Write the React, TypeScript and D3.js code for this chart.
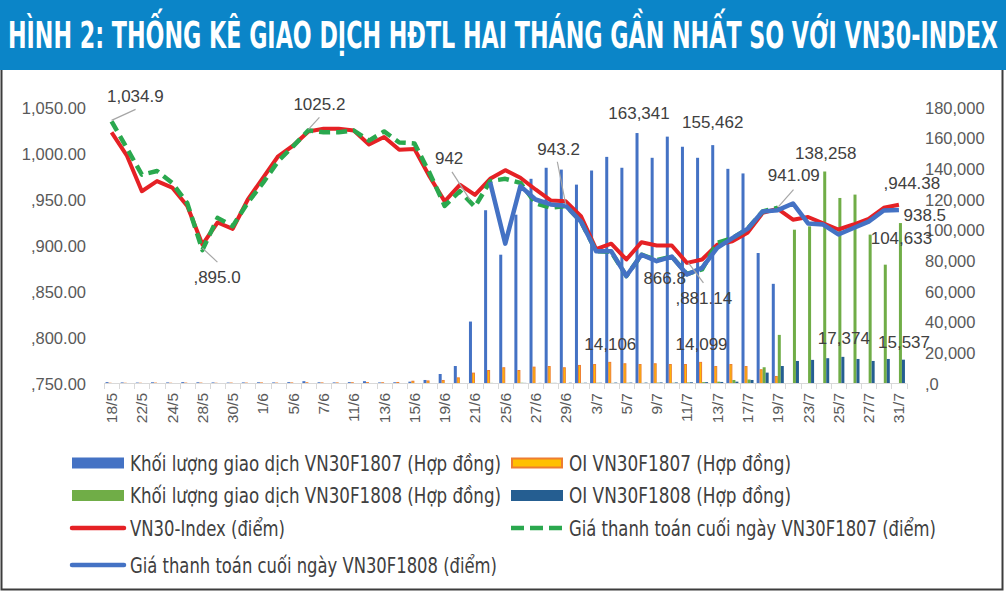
import React, { useEffect, useRef } from 'react';
import * as d3 from 'd3';

const W = 1006;
const H = 593;

const dates = [
  '18/5', '21/5', '22/5', '23/5', '24/5', '25/5', '28/5', '29/5', '30/5', '31/5',
  '1/6', '4/6', '5/6', '6/6', '7/6', '8/6', '11/6', '12/6', '13/6', '14/6', '15/6', '18/6', '19/6', '20/6', '21/6', '22/6', '25/6', '26/6', '27/6', '28/6', '29/6',
  '2/7', '3/7', '4/7', '5/7', '6/7', '9/7', '10/7', '11/7', '12/7', '13/7', '16/7', '17/7', '18/7', '19/7', '20/7', '23/7', '24/7', '25/7', '26/7', '27/7', '30/7', '31/7',
];

// VN30-Index (điểm)
const vn30 = [
  1023, 998, 959, 970, 963, 943, 901, 925, 918, 950,
  973.6, 997, 1008.7, 1024, 1026.8, 1026.8, 1025, 1009.8, 1018, 1004, 1005, 975, 948, 966, 955, 972.5, 981.9, 973.6, 960.9, 949, 948,
  932, 896, 902, 884.8, 903.6, 900, 900, 881.14, 884.8, 901, 904.7, 913.8, 935.5, 939.9, 928, 931, 924, 917.4, 922.8, 929, 941, 944.38,
];

// Giá thanh toán cuối ngày VN30F1807
const f1807Price: (number | null)[] = [
  1034.9, 1006, 977, 981, 968, 946, 895.0, 930, 921, 946.7,
  968, 991.6, 1008, 1025.2, 1023, 1023, 1025, 1014, 1024, 1012, 1011, 979, 943, 959, 942, 970, 972.5, 968, 946, 941, 943,
  926, 894, 893, 866.8, 890, 884, 888, 869, 874, 903, 908, 918, 937, 941.09, null, null, null, null, null, null, null, null,
];

// Giá thanh toán cuối ngày VN30F1808
const f1808Price: (number | null)[] = [
  null, null, null, null, null, null, null, null, null, null,
  null, null, null, null, null, null, null, null, null, null, null, null, null, null, null, 968.9, 902, 964.5, 950, 944.6, 943.2,
  926, 893.8, 893.8, 866.8, 890, 883, 888, 868.5, 875.7, 897.5, 908, 918, 937, 938.4, 945.7, 924, 922.8, 912, 919, 926, 938, 938.5,
];

// Khối lượng giao dịch VN30F1807
const vol1807: (number | null)[] = [
  900, 700, 600, 800, 700, 900, 800, 700, 600, 700,
  800, 700, 900, 1500, 800, 700, 900, 1500, 700, 800, 1200, 2300, 6200, 11400, 40400, 113000, 84000, 110100, 133500, 140700, 139500,
  129700, 138900, 147800, 140700, 163341, 147200, 161000, 154400, 147200, 155462, 140000, 137000, 85100, 65000, null, null, null, null, null, null, null, null,
];

// OI VN30F1807
const oi1807: (number | null)[] = [
  500, 500, 500, 600, 500, 600, 600, 500, 600, 600,
  700, 600, 700, 800, 700, 700, 800, 900, 800, 1000, 1800, 2000, 2300, 4000, 7100, 8800, 10600, 8800, 11000, 11400, 10600,
  12100, 12700, 14106, 13200, 12700, 13200, 12700, 12700, 14099, 11400, 12700, 11400, 9300, 4900, null, null, null, null, null, null, null, null,
];

// Khối lượng giao dịch VN30F1808
const vol1808: (number | null)[] = [
  null, null, null, null, null, null, null, null, null, null,
  null, null, null, null, null, null, null, null, null, null, null, null, 200, 300, 300, 400, 300, 500, 300, 400, 300,
  400, 500, 400, 500, 400, 600, 500, 700, 900, 1200, 2300, 2600, 10600, 31700, 100300, 102500, 138258, 121000, 123200, 97100, 77500, 104633,
];

// OI VN30F1808
const oi1808: (number | null)[] = [
  null, null, null, null, null, null, null, null, null, null,
  null, null, null, null, null, null, null, null, null, null, null, null, 100, 200, 200, 300, 300, 400, 400, 400, 500,
  500, 500, 600, 600, 600, 700, 700, 800, 900, 1000, 1200, 2300, 7100, 11400, 14700, 15400, 16500, 17374, 16000, 14700, 16000, 15537,
];

const leftTicks = [750, 800, 850, 900, 950, 1000, 1050];
const leftTickLabels = [',750.00', ',800.00', ',850.00', ',900.00', ',950.00', '1,000.00', '1,050.00'];
const rightTicks = [0, 20000, 40000, 60000, 80000, 100000, 120000, 140000, 160000, 180000];
const rightTickLabels = [',0', '20,000', '40,000', '60,000', '80,000', '100,000', '120,000', '140,000', '160,000', '180,000'];

const TITLE = 'HÌNH 2: THỐNG KÊ GIAO DỊCH HĐTL HAI THÁNG GẦN NHẤT SO VỚI VN30-INDEX';

const C = {
  vol07: '#4472C4',
  oi07Fill: '#FFC000',
  oi07Stroke: '#ED7D31',
  vol08: '#70AD47',
  oi08: '#255E91',
  red: '#E52125',
  green: '#2AA84E',
  blue: '#4472C4',
  text: '#404040',
  axisText: '#595959',
  grid: '#D9D9D9',
};

export default function App() {
  const ref = useRef<SVGSVGElement>(null);

  useEffect(() => {
    const svg = d3.select(ref.current);
    svg.selectAll('*').remove();

    // background + title bar + frame
    svg.append('rect').attr('x', 0).attr('y', 0).attr('width', W).attr('height', H).attr('fill', '#fff');
    svg.append('rect').attr('x', 1.5).attr('y', 60).attr('width', 1001).attr('height', 529.5)
      .attr('fill', '#fff').attr('stroke', '#3c3c3c').attr('stroke-width', 2);
    svg.append('rect').attr('x', 0).attr('y', 0).attr('width', W).attr('height', 70).attr('fill', '#0B85C8');
    svg.append('text').attr('x', 8).attr('y', 47.5).text(TITLE)
      .attr('fill', '#fff').attr('font-family', '"Liberation Sans Narrow", "DejaVu Sans Condensed", Arial, sans-serif')
      .attr('font-weight', 'bold').attr('font-size', 37)
      .attr('textLength', 990).attr('lengthAdjust', 'spacingAndGlyphs');

    const n = dates.length;
    const x = d3.scaleBand<number>().domain(d3.range(n)).range([104, 906.5]).paddingInner(0).paddingOuter(0);
    const bw = x.bandwidth();
    const cx = (i: number) => (x(i) as number) + bw / 2;
    const yL = d3.scaleLinear().domain([750, 1050]).range([383.5, 107.5]);
    const yR = d3.scaleLinear().domain([0, 180000]).range([383.5, 107.5]);
    const inner = d3.scaleBand<string>().domain(['v07', 'o07', 'v08', 'o08']).range([0, bw]).paddingInner(0).paddingOuter(0.52);
    const ibw = inner.bandwidth();

    const font = '"Liberation Sans", Arial, sans-serif';

    // left axis labels
    svg.append('g').selectAll('text').data(leftTicks).join('text')
      .attr('x', 86).attr('y', (d) => yL(d) + 6).attr('text-anchor', 'end')
      .attr('font-family', font).attr('font-size', 16.5).attr('fill', C.axisText)
      .text((d, i) => leftTickLabels[i]);
    // right axis labels
    svg.append('g').selectAll('text').data(rightTicks).join('text')
      .attr('x', 925).attr('y', (d) => yR(d) + 6).attr('text-anchor', 'start')
      .attr('font-family', font).attr('font-size', 16.5).attr('fill', C.axisText)
      .text((d, i) => rightTickLabels[i]);

    // bars
    const barSeries: { key: string; data: (number | null)[]; fill: string; stroke?: string }[] = [
      { key: 'v07', data: vol1807, fill: C.vol07 },
      { key: 'o07', data: oi1807, fill: C.oi07Fill, stroke: C.oi07Stroke },
      { key: 'v08', data: vol1808, fill: C.vol08 },
      { key: 'o08', data: oi1808, fill: C.oi08 },
    ];
    barSeries.forEach((s) => {
      const g = svg.append('g');
      const items = s.data.map((v, i) => ({ v, i })).filter((d) => d.v != null) as { v: number; i: number }[];
      g.selectAll('rect').data(items).join('rect')
        .attr('x', (d) => (x(d.i) as number) + (inner(s.key) as number) + (s.stroke ? 0.5 : 0))
        .attr('width', s.stroke ? ibw - 1 : ibw)
        .attr('y', (d) => yR(d.v) + (s.stroke ? 0.5 : 0))
        .attr('height', (d) => Math.max(0, yR(0) - yR(d.v) - (s.stroke ? 0.5 : 0)))
        .attr('fill', s.fill)
        .attr('stroke', s.stroke || 'none')
        .attr('stroke-width', s.stroke ? 1 : 0);
    });

    // x axis
    svg.append('line').attr('x1', 104).attr('x2', 906.5).attr('y1', 383.5).attr('y2', 383.5)
      .attr('stroke', C.grid).attr('stroke-width', 1);
    svg.append('g').selectAll('line').data(d3.range(n + 1)).join('line')
      .attr('x1', (i) => Math.round(104 + i * bw) + 0.5).attr('x2', (i) => Math.round(104 + i * bw) + 0.5)
      .attr('y1', 383.5).attr('y2', 389).attr('stroke', C.grid).attr('stroke-width', 1);
    svg.append('g').selectAll('text').data(d3.range(0, n, 2)).join('text')
      .attr('transform', (i) => `translate(${cx(i) + 5.5},393) rotate(-90)`)
      .attr('text-anchor', 'end').attr('font-family', font).attr('font-size', 15.5).attr('fill', C.axisText)
      .text((i) => dates[i]);

    // lines
    const mkLine = (data: (number | null)[]) =>
      d3.line<number>().defined((i) => data[i] != null).x((i) => cx(i)).y((i) => yL(data[i] as number))(d3.range(n));
    svg.append('path').attr('d', mkLine(vn30)).attr('fill', 'none').attr('stroke', C.red)
      .attr('stroke-width', 4).attr('stroke-linejoin', 'round');
    svg.append('path').attr('d', mkLine(f1807Price)).attr('fill', 'none').attr('stroke', C.green)
      .attr('stroke-width', 4.5).attr('stroke-dasharray', '11,6').attr('stroke-linejoin', 'round');
    svg.append('path').attr('d', mkLine(f1808Price)).attr('fill', 'none').attr('stroke', C.blue)
      .attr('stroke-width', 4.5).attr('stroke-linejoin', 'round');

    // data labels
    type Lab = { px: number; py: number; text: string; dx: number; dy: number; anchor: string; leader?: number[] };
    const labs: Lab[] = [
      { px: cx(0), py: yL(f1807Price[0] as number), text: '1,034.9', dx: -4.6, dy: -19, anchor: 'start', leader: [0, -1, 24, -12] },
      { px: cx(6), py: yL(f1807Price[6] as number), text: ',895.0', dx: -9, dy: 33, anchor: 'start', leader: [0, -2, 15, 12] },
      { px: cx(13), py: yL(f1807Price[13] as number), text: '1025.2', dx: -15, dy: -20, anchor: 'start', leader: [0, -1, 11, -13] },
      { px: cx(24), py: yL(f1807Price[24] as number), text: '942', dx: -40, dy: -43, anchor: 'start', leader: [-23, -35, -5, -7] },
      { px: cx(30), py: yL(f1808Price[30] as number), text: '943.2', dx: -28.5, dy: -51, anchor: 'start', leader: [-8.5, -44, 0, -1] },
      { px: cx(34), py: yL(f1808Price[34] as number), text: '866.8', dx: 17, dy: 7.5, anchor: 'start' },
      { px: cx(38), py: yL(vn30[38]), text: ',881.14', dx: -11.5, dy: 41, anchor: 'start', leader: [1.5, 0, 16.5, 20] },
      { px: cx(44), py: yL(f1807Price[44] as number), text: '941.09', dx: -10, dy: -27, anchor: 'start', leader: [0.7, -1, 15.7, -18] },
      { px: cx(52), py: yL(vn30[52]), text: ',944.38', dx: -15.4, dy: -16, anchor: 'start' },
      { px: cx(52), py: yL(f1808Price[52] as number), text: '938.5', dx: 4.6, dy: 11, anchor: 'start' },
      { px: (x(35) as number) + (inner('v07') as number) + ibw / 2, py: yR(vol1807[35] as number), text: '163,341', dx: 2, dy: -14, anchor: 'middle' },
      { px: (x(40) as number) + (inner('v07') as number) + ibw / 2, py: yR(vol1807[40] as number), text: '155,462', dx: 0, dy: -17, anchor: 'middle' },
      { px: (x(33) as number) + (inner('o07') as number) + ibw / 2, py: yR(oi1807[33] as number), text: '14,106', dx: 0.6, dy: -12, anchor: 'middle' },
      { px: (x(39) as number) + (inner('o07') as number) + ibw / 2, py: yR(oi1807[39] as number), text: '14,099', dx: 1, dy: -12, anchor: 'middle' },
      { px: (x(47) as number) + (inner('v08') as number) + ibw / 2, py: yR(vol1808[47] as number), text: '138,258', dx: 1, dy: -13, anchor: 'middle' },
      { px: (x(52) as number) + (inner('v08') as number) + ibw / 2, py: yR(vol1808[52] as number), text: '104,633', dx: 1, dy: 20.6, anchor: 'middle' },
      { px: (x(48) as number) + (inner('o08') as number) + ibw / 2, py: yR(oi1808[48] as number), text: '17,374', dx: 1, dy: -13, anchor: 'middle' },
      { px: (x(52) as number) + (inner('o08') as number) + ibw / 2, py: yR(oi1808[52] as number), text: '15,537', dx: 0.6, dy: -12, anchor: 'middle' },
    ];
    const lg = svg.append('g');
    labs.forEach((l) => {
      if (l.leader) {
        lg.append('line').attr('x1', l.px + l.leader[0]).attr('y1', l.py + l.leader[1])
          .attr('x2', l.px + l.leader[2]).attr('y2', l.py + l.leader[3])
          .attr('stroke', '#A6A6A6').attr('stroke-width', 1.2);
      }
      lg.append('text').attr('x', l.px + l.dx).attr('y', l.py + l.dy).attr('text-anchor', l.anchor)
        .attr('font-family', font).attr('font-size', 17).attr('fill', C.text).text(l.text);
    });

    // legend
    const legFont = '"Liberation Sans Narrow", "DejaVu Sans Condensed", Arial, sans-serif';
    type Leg = { col: number; row: number; kind: string; color: string; stroke?: string; text: string; tw: number };
    const legend: Leg[] = [
      { col: 0, row: 0, kind: 'rect', color: C.vol07, text: 'Khối lượng giao dịch VN30F1807 (Hợp đồng)', tw: 371 },
      { col: 1, row: 0, kind: 'rect', color: C.oi07Fill, stroke: C.oi07Stroke, text: 'OI VN30F1807 (Hợp đồng)', tw: 222 },
      { col: 0, row: 1, kind: 'rect', color: C.vol08, text: 'Khối lượng giao dịch VN30F1808 (Hợp đồng)', tw: 371 },
      { col: 1, row: 1, kind: 'rect', color: C.oi08, text: 'OI VN30F1808 (Hợp đồng)', tw: 222 },
      { col: 0, row: 2, kind: 'line', color: C.red, text: 'VN30-Index (điểm)', tw: 155 },
      { col: 1, row: 2, kind: 'dash', color: C.green, text: 'Giá thanh toán cuối ngày VN30F1807 (điểm)', tw: 367 },
      { col: 0, row: 3, kind: 'line', color: C.blue, text: 'Giá thanh toán cuối ngày VN30F1808 (điểm)', tw: 367 },
    ];
    const rowY = [463, 495.5, 528, 565];
    const colX = [72, 511];
    const leg = svg.append('g');
    legend.forEach((l) => {
      const sx = colX[l.col];
      const y = rowY[l.row];
      if (l.kind === 'rect') {
        leg.append('rect').attr('x', sx + (l.stroke ? 1 : 0)).attr('y', y - 5.5 + (l.stroke ? 1 : 0))
          .attr('width', 52 - (l.stroke ? 2 : 0)).attr('height', 11 - (l.stroke ? 2 : 0))
          .attr('fill', l.color).attr('stroke', l.stroke || 'none').attr('stroke-width', l.stroke ? 2 : 0);
      } else {
        leg.append('line').attr('x1', sx).attr('x2', sx + 52).attr('y1', y).attr('y2', y)
          .attr('stroke', l.color).attr('stroke-width', 4.5)
          .attr('stroke-linecap', l.kind === 'dash' ? 'butt' : 'round')
          .attr('stroke-dasharray', l.kind === 'dash' ? '13,6' : null);
      }
      leg.append('text').attr('x', sx + 58).attr('y', y + 7.5).attr('font-family', legFont).attr('font-size', 21)
        .attr('fill', C.text).attr('textLength', l.tw).attr('lengthAdjust', 'spacingAndGlyphs').text(l.text);
    });
  }, []);

  return (
    <svg ref={ref} width={W} height={H} style={{ position: 'absolute', left: 0, top: 0, display: 'block' }} />
  );
}
